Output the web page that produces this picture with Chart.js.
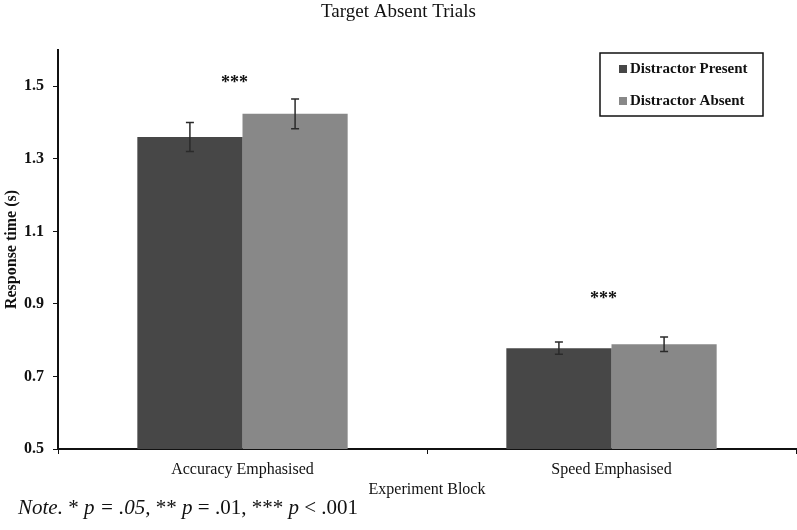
<!DOCTYPE html>
<html>
<head>
<meta charset="utf-8">
<script src="https://cdn.jsdelivr.net/npm/chart.js@4"></script>
<style>
  body { margin: 0; background: #fff; }
  #wrap { width: 797px; height: 530px; }
</style>
</head>
<body>
<div id="wrap"><canvas id="myChart"></canvas></div>
<script>
const blocks = ['Accuracy Emphasised', 'Speed Emphasised'];
const presentRT = [1.36, 0.778];
const absentRT = [1.424, 0.789];
const presentErr = [0.04, 0.017];
const absentErr = [0.041, 0.02];
const stars = ['***', '***'];
const starAt = [1.516, 0.922];
const yTicks = [0.5, 0.7, 0.9, 1.1, 1.3, 1.5];

const serif = '"Liberation Serif", "DejaVu Serif", serif';
Chart.defaults.color = '#111';
Chart.defaults.font.family = serif;

// pieces of the note line: [text, italic]
const note = [
  ['Note.', true], [' * ', false], ['p', true], [' = .05,', true],
  [' ** ', false], ['p', true], [' = .01, *** ', false], ['p', true], [' < .001', false]
];

// error bars + stars + legend box + title + note
const extras = {
  id: 'extras',
  afterDatasetsDraw(chart) {
    const c = chart.ctx;
    const y = chart.scales.y;
    const errs = [presentErr, absentErr];
    c.save();
    c.strokeStyle = '#2a2a2a';
    c.lineWidth = 1.5;
    chart.data.datasets.forEach((ds, i) => {
      chart.getDatasetMeta(i).data.forEach((bar, j) => {
        const top = y.getPixelForValue(ds.data[j] + errs[i][j]);
        const bot = y.getPixelForValue(ds.data[j] - errs[i][j]);
        c.beginPath();
        c.moveTo(bar.x, top); c.lineTo(bar.x, bot);
        c.moveTo(bar.x - 4, top); c.lineTo(bar.x + 4, top);
        c.moveTo(bar.x - 4, bot); c.lineTo(bar.x + 4, bot);
        c.stroke();
      });
    });
    // significance stars
    c.fillStyle = '#111';
    c.font = 'bold 18px ' + serif;
    c.textAlign = 'center';
    c.textBaseline = 'middle';
    stars.forEach((s, j) => {
      const x = chart.scales.x.getPixelForValue(j);
      c.fillText(s, x - 8, y.getPixelForValue(starAt[j]) + 3);
    });
    // legend box
    const bx = 600, by = 53, bw = 163, bh = 63;
    c.strokeStyle = '#111';
    c.lineWidth = 1.5;
    c.strokeRect(bx, by, bw, bh);
    c.font = 'bold 15px ' + serif;
    c.textAlign = 'left';
    chart.data.datasets.forEach((ds, i) => {
      const ly = by + 16 + i * 32;
      c.fillStyle = ds.backgroundColor;
      c.fillRect(bx + 19, ly - 4, 8, 8);
      c.fillStyle = '#111';
      c.fillText(ds.label, bx + 30, ly);
    });
    // title
    c.font = '19px ' + serif;
    c.textAlign = 'center';
    c.fillText('Target Absent Trials', chart.width / 2, 12);
    // note
    c.textAlign = 'left';
    let nx = 18;
    note.forEach(([t, it]) => {
      c.font = (it ? 'italic ' : '') + '21px ' + serif;
      c.fillText(t, nx, 508);
      nx += c.measureText(t).width;
    });
    c.restore();
  }
};

const ctx = document.getElementById('myChart');
new Chart(ctx, {
  type: 'bar',
  data: {
    labels: blocks,
    datasets: [{
      label: 'Distractor Present',
      data: presentRT,
      backgroundColor: '#474747'
    }, {
      label: 'Distractor Absent',
      data: absentRT,
      backgroundColor: '#888888'
    }]
  },
  options: {
    responsive: true,
    maintainAspectRatio: false,
    animation: false,
    datasets: { bar: { barPercentage: 1, categoryPercentage: 0.57 } },
    layout: { padding: { top: 50, right: 1, bottom: 31 } },
    plugins: { legend: { display: false }, tooltip: { enabled: false } },
    scales: {
      x: {
        grid: { drawOnChartArea: false, color: '#111', tickLength: 5 },
        border: { color: '#111', width: 2 },
        ticks: { font: { size: 16 }, color: '#111', padding: 6 },
        title: { display: true, text: 'Experiment Block', font: { size: 16 }, color: '#111', padding: 0 },
        afterFit(s) { s.height = 50; }
      },
      y: {
        min: 0.5,
        max: 1.6,
        grid: { drawOnChartArea: false, color: '#111', tickLength: 5 },
        border: { color: '#111', width: 2 },
        afterBuildTicks(s) { s.ticks = yTicks.map(v => ({ value: v })); },
        ticks: {
          font: { size: 16, weight: 'bold' }, color: '#111', padding: 9,
          callback: v => v.toFixed(1)
        },
        title: { display: true, text: 'Response time (s)', font: { size: 16, weight: 'bold' }, color: '#111', padding: 2 },
        afterFit(s) { s.width = 58; }
      }
    }
  },
  plugins: [extras]
});
</script>
</body>
</html>
